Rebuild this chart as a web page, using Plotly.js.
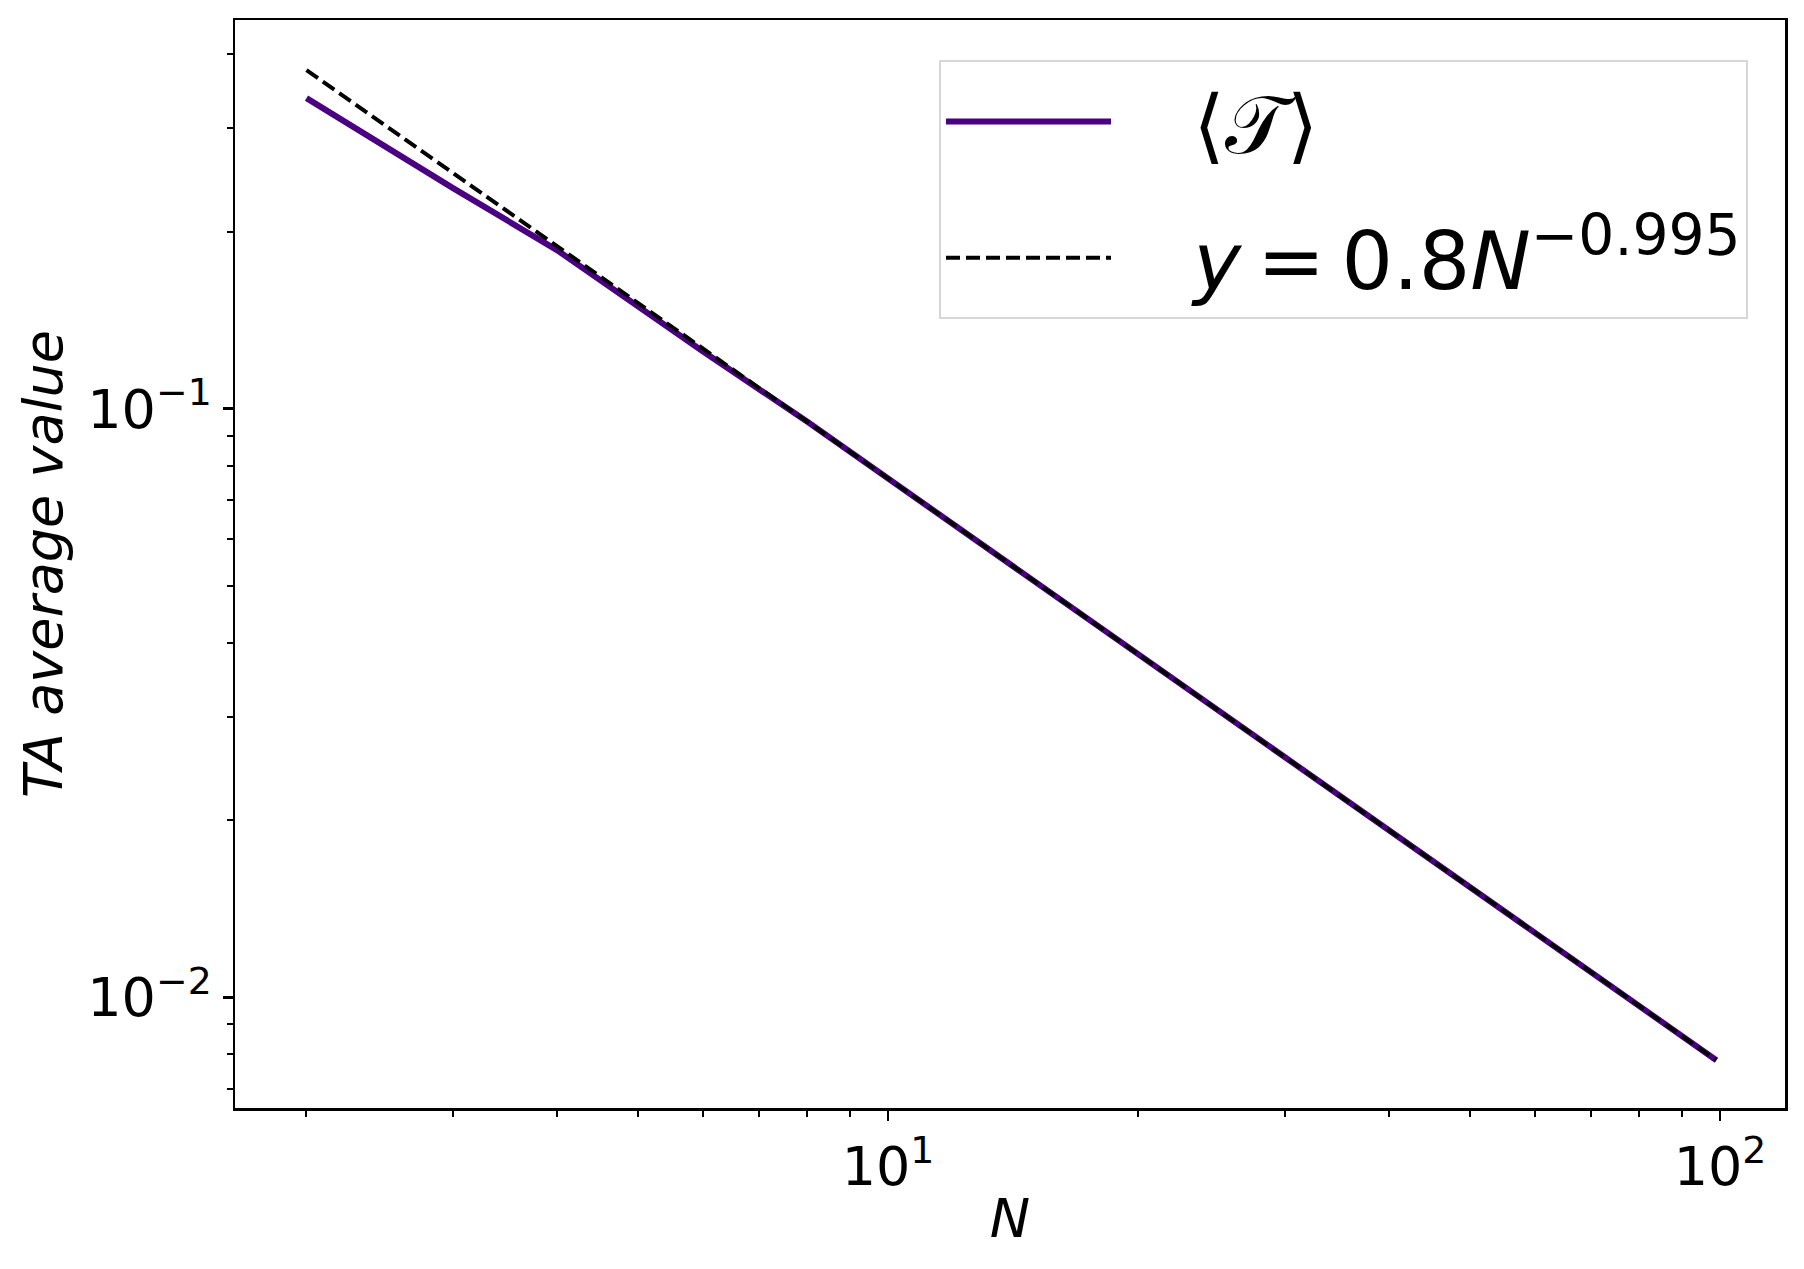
<!DOCTYPE html>
<html><head><meta charset="utf-8">
<script src="https://cdn.plot.ly/plotly-3.0.1.min.js"></script>
<style>html,body{margin:0;padding:0;background:#fff}#chart{width:1804px;height:1269px}</style>
</head><body><div id="chart"></div>
<script>
// data
const N_sim = [2, 3, 4, 5, 6, 8, 10, 15, 20, 30, 40, 50, 60, 70, 80, 90, 99];
const T_avg = [0.337, 0.237, 0.186, 0.149, 0.125, 0.0950, 0.0761, 0.0509, 0.0382, 0.0256, 0.01923, 0.01541, 0.01286, 0.01103, 0.00966, 0.00860, 0.00782];
const N_fit = [2, 3, 4, 5, 6, 8, 10, 15, 20, 30, 40, 50, 60, 70, 80, 90, 99];
const y_fit = [0.376, 0.2514, 0.189, 0.1514, 0.1263, 0.0950, 0.0761, 0.0509, 0.0382, 0.0256, 0.01923, 0.01541, 0.01286, 0.01103, 0.00966, 0.00860, 0.00782];
const xMajor = [10, 100];
const xMajorText = ['10<sup>1</sup>', '10<sup>2</sup>'];
const xMinor = [2, 3, 4, 5, 6, 7, 8, 9, 20, 30, 40, 50, 60, 70, 80, 90];
const yMajor = [0.01, 0.1];
const yMajorText = ['10<sup>\u22122</sup>', '10<sup>\u22121</sup>'];
const yMinor = [0.007, 0.008, 0.009, 0.02, 0.03, 0.04, 0.05, 0.06, 0.07, 0.08, 0.09, 0.2, 0.3, 0.4];
const seriesNames = ['\u00A0\u00A0\u00A0\u27E8\uD835\uDCAF\u27E9',
                     '\u00A0\u00A0\u00A0<i>y</i>\u2009=\u20090.8<i>N</i><sup>\u22120.995</sup>'];

const FONT = 'DejaVu Sans, Liberation Sans, sans-serif';

const traces = [
  {x: N_sim, y: T_avg, mode: 'lines', name: seriesNames[0], legendgroup: 'a',
   line: {color: '#4B0082', width: 6}},
  {x: N_fit, y: y_fit, mode: 'lines', name: seriesNames[1], legendgroup: 'b',
   line: {color: '#000000', width: 4, dash: '14px,6px'}}
];

const axisCommon = {
  type: 'log', showgrid: false, zeroline: false,
  showline: true, linecolor: '#000', linewidth: 2.5, mirror: true,
  ticks: 'outside', ticklen: 10, tickwidth: 2.5, tickcolor: '#000',
  tickmode: 'array',
  tickfont: {family: FONT, size: 54, color: '#000'}
};

const layout = {
  width: 1804, height: 1269,
  paper_bgcolor: '#fff', plot_bgcolor: '#fff',
  margin: {l: 235, r: 19, t: 20, b: 161, pad: 0},
  showlegend: true,
  legend: {
    x: 0.4542, y: 0.963, xanchor: 'left', yanchor: 'top',
    bgcolor: 'rgba(255,255,255,0.8)', bordercolor: '#d6d6d6', borderwidth: 2,
    font: {family: FONT, size: 81, color: '#000'},
    itemwidth: 165, tracegroupgap: 28
  },
  xaxis: Object.assign({}, axisCommon, {
    range: [0.2151, 2.0781],
    tickvals: xMajor, ticktext: xMajorText,
    minor: {tickmode: 'array', tickvals: xMinor, ticks: 'outside', ticklen: 6, tickwidth: 2, tickcolor: '#000', showgrid: false},
    title: {text: '<i>N</i>', font: {family: FONT, size: 54, color: '#000'}, standoff: 2}
  }),
  yaxis: Object.assign({}, axisCommon, {
    range: [-2.188, -0.3396],
    tickvals: yMajor, ticktext: yMajorText,
    minor: {tickmode: 'array', tickvals: yMinor, ticks: 'outside', ticklen: 6, tickwidth: 2, tickcolor: '#000', showgrid: false},
    title: {text: '<i>TA average value</i>', font: {family: FONT, size: 54, color: '#000'}, standoff: 8}
  })
};

Plotly.newPlot('chart', traces, layout, {displayModeBar: false, staticPlot: true});
</script>
</body></html>
